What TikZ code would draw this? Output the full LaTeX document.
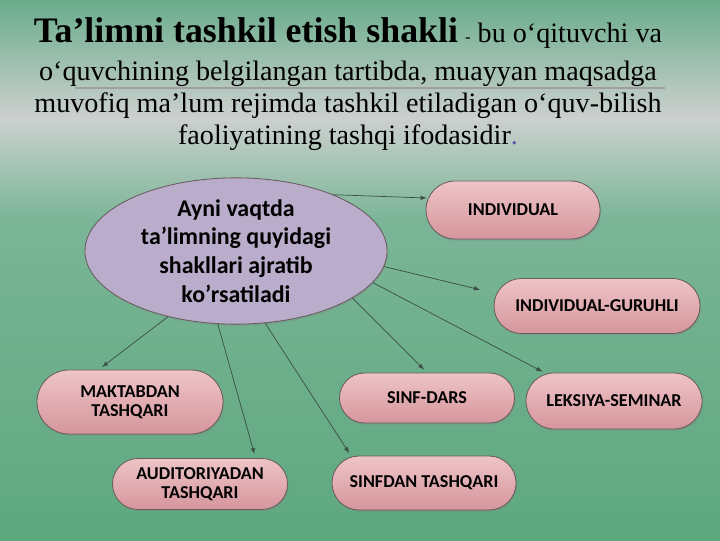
\documentclass[tikz,border=0pt]{standalone}
\usepackage{fontspec}
\setmainfont{Liberation Serif}
\newfontfamily\boxfont{Carlito}
\usetikzlibrary{arrows,shapes,shadows,positioning}

\definecolor{bgtop}{RGB}{106,172,140}
\definecolor{bggray}{RGB}{204,208,206}
\definecolor{bggreen}{RGB}{122,181,151}
\definecolor{bgbottom}{RGB}{94,168,126}
\definecolor{boxtop}{RGB}{238,196,199}
\definecolor{boxbottom}{RGB}{213,150,156}
\definecolor{boxline}{RGB}{105,92,94}
\definecolor{ellfill}{RGB}{186,172,203}
\definecolor{arrowcol}{RGB}{58,78,70}

\tikzset{
  formbox/.style={rounded rectangle, draw=boxline, line width=0.6pt,
    top color=boxtop, bottom color=boxbottom,
    drop shadow={shadow xshift=0.8pt,shadow yshift=-1.2pt,opacity=0.35},
    font=\boxfont\bfseries\fontsize{12.9}{13.6}\selectfont,
    align=center, text=black, inner sep=0pt},
  link/.style={-latex, draw=arrowcol, line width=0.5pt, shorten >=3pt}
}

\begin{document}
\begin{tikzpicture}[x=0.025cm,y=-0.025cm]
% background
\shade [top color=bgtop, bottom color=bggray] (0,0) rectangle (720,118);
\shade [top color=bggray, bottom color=bggreen] (0,118) rectangle (720,220);
\shade [top color=bggreen, bottom color=bgbottom] (0,220) rectangle (720,540);
\draw [gray!75, line width=1pt] (75,88) -- (665,88);

% title
\node [align=center, font=\fontsize{20}{22.7}\selectfont] (title) at (348,84)
  {{\bfseries\fontsize{25.5}{22.7}\selectfont Ta’limni tashkil etish shakli}
   {\fontsize{12}{22.7}\selectfont -} bu o‘qituvchi va\\[5pt]
   o‘quvchining belgilangan tartibda, muayyan maqsadga\\
   muvofiq ma’lum rejimda tashkil etiladigan o‘quv-bilish\\
   faoliyatining tashqi ifodasidir{\color{gray!70!blue}.}};

% centre
\node [ellipse, draw=boxline, line width=0.6pt, fill=ellfill,
  drop shadow={shadow xshift=0.8pt,shadow yshift=-1.2pt,opacity=0.3},
  minimum width=7.55cm, minimum height=3.65cm, inner sep=0pt, align=center,
  font=\boxfont\bfseries\fontsize{17}{20.5}\selectfont] (ell) at (236,251)
  {Ayni vaqtda\\ ta’limning quyidagi\\ shakllari ajratib\\ ko’rsatiladi};

% forms
\node [formbox, minimum width=4.35cm, minimum height=1.45cm] (indiv) at (513,210) {INDIVIDUAL};
\node [formbox, minimum width=5.15cm, minimum height=1.375cm] (guruh) at (597,306) {INDIVIDUAL-GURUHLI};
\node [formbox, minimum width=4.65cm, minimum height=1.6cm] (maktab) at (130,402) {MAKTABDAN\\ TASHQARI};
\node [formbox, minimum width=4.375cm, minimum height=1.275cm] (audit) at (200,484) {AUDITORIYADAN\\ TASHQARI};
\node [formbox, minimum width=4.375cm, minimum height=1.25cm] (dars) at (427,398) {SINF-DARS};
\node [formbox, minimum width=4.4cm, minimum height=1.4cm] (leksiya) at (614,401) {LEKSIYA-SEMINAR};
\node [formbox, minimum width=4.6cm, minimum height=1.35cm] (sinfdan) at (424,483) {SINFDAN TASHQARI};

% arrows
\draw [link, shorten >=1pt] (ell.30) -- (indiv.172);
\draw [link, shorten >=12pt] (ell.-6) -- (guruh.173);
\draw [link] (ell.-13) -- (leksiya.158);
\draw [link] (ell.-22) -- (dars.north);
\draw [link] (ell.-68) -- (sinfdan.160);
\draw [link] (ell.-104) -- (audit.25);
\draw [link] (ell.-136) -- (maktab.134);
\end{tikzpicture}
\end{document}
